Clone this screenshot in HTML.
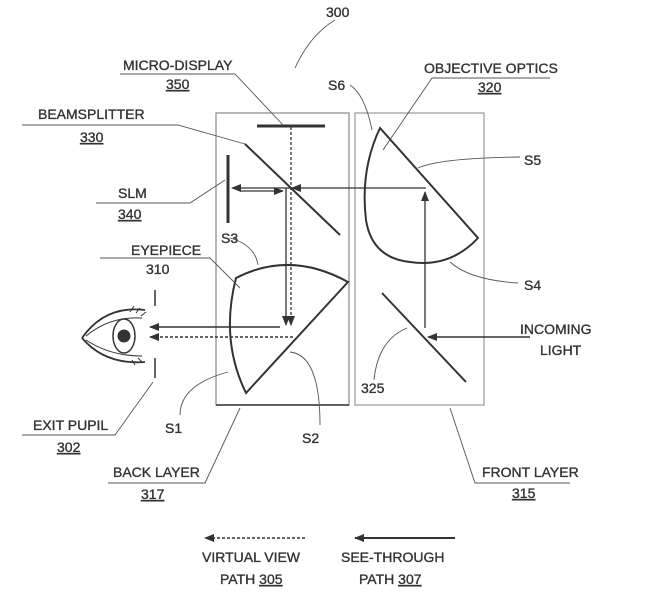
<!DOCTYPE html>
<html><head><meta charset="utf-8"><style>
html,body{margin:0;padding:0;background:#fff;}
svg{display:block;}
text{font-family:"Liberation Sans",sans-serif;font-size:14px;fill:#333;stroke:#333;stroke-width:0.35;}
</style></head><body>
<svg width="660" height="613" viewBox="0 0 660 613" xmlns="http://www.w3.org/2000/svg">
<defs>
<marker id="ah" markerWidth="10" markerHeight="8" refX="9" refY="4" orient="auto" markerUnits="userSpaceOnUse"><path d="M0,0 L10,4 L0,8 Z" fill="#333"/></marker>
</defs>
<g fill="none" stroke="#333">
<rect x="216" y="113" width="133" height="292" stroke="#888" stroke-width="1.2"/>
<line x1="216" y1="405" x2="349" y2="405" stroke-width="1.5"/>
<rect x="355" y="113" width="129" height="292" stroke="#999" stroke-width="1.2"/>
<line x1="257" y1="126" x2="325" y2="126" stroke-width="3"/>
<line x1="245" y1="144" x2="340" y2="235" stroke-width="2"/>
<line x1="228" y1="155" x2="228" y2="223" stroke-width="3"/>
<path d="M380,128 L478,238 Q450,268 410,262 Q372,258 366,220 Q360,170 380,128 Z" stroke-width="2"/>
<path d="M348,282 L246,393 Q220,340 236,278 Q290,250 348,282 Z" stroke-width="2"/>
<line x1="382" y1="293" x2="466" y2="382" stroke-width="2"/>
<line x1="291" y1="127" x2="291" y2="325" stroke-dasharray="3,2" stroke-width="1.3" marker-end="url(#ah)"/>
<line x1="286" y1="188" x2="286" y2="325" stroke-width="1.3" marker-end="url(#ah)"/>
<line x1="426" y1="188" x2="292" y2="188" stroke-width="1.3" marker-end="url(#ah)"/>
<line x1="292" y1="188" x2="232" y2="188" stroke-width="1.3" marker-end="url(#ah)"/>
<line x1="240" y1="191" x2="283" y2="191" stroke-width="1.3" marker-end="url(#ah)"/>
<line x1="425" y1="328" x2="425" y2="192" stroke-width="1.3" marker-end="url(#ah)"/>
<line x1="530" y1="337" x2="428" y2="337" stroke-width="1.5" marker-end="url(#ah)"/>
<line x1="280" y1="327" x2="150" y2="327" stroke-width="1.5" marker-end="url(#ah)"/>
<line x1="293" y1="337" x2="150" y2="337" stroke-dasharray="3,2" stroke-width="1.5" marker-end="url(#ah)"/>
<line x1="155" y1="290" x2="155" y2="306" stroke-width="1.5"/>
<line x1="155" y1="358" x2="155" y2="378" stroke-width="1.5"/>
<path d="M82,338 Q105,305 145,310 M82,338 Q105,365 145,362" stroke-width="1.8"/>
<path d="M86,336 Q110,316 142,318 M86,340 Q110,356 142,356" stroke-width="1"/>
<path d="M130,312 l4,-6 M136,313 l4,-5 M141,316 l5,-4 M132,360 l3,5 M138,358 l4,4" stroke-width="1"/>
<ellipse cx="124" cy="336" rx="11" ry="17" stroke-width="1.5"/>
<circle cx="124" cy="336" r="6" fill="#333"/>
<g stroke-width="0.9" stroke="#555">
<path d="M295,68 Q310,35 335,20"/>
<path d="M120,74 L235,74 L283,125"/>
<path d="M550,78 L432,78 L383,150"/>
<path d="M350,85 Q365,95 372,130"/>
<path d="M22,125 L178,125 L245,144"/>
<path d="M520,157 Q440,158 418,168"/>
<path d="M96,203 L190,203 L225,180"/>
<path d="M230,238 Q255,245 258,265"/>
<path d="M100,258 L210,258 L240,288"/>
<path d="M518,283 Q470,280 450,262"/>
<path d="M374,380 Q378,340 407,328"/>
<path d="M180,415 Q180,385 228,372"/>
<path d="M320,425 Q320,355 290,352"/>
<path d="M22,435 L115,435 L153,382"/>
<path d="M108,483 L205,483 L240,408"/>
<path d="M570,483 L475,483 L450,408"/>
</g>
<line x1="305" y1="538" x2="205" y2="538" stroke-dasharray="3,2" stroke-width="1.5" marker-end="url(#ah)"/>
<line x1="455" y1="538" x2="355" y2="538" stroke-width="2" marker-end="url(#ah)"/>
</g>
<g>
<text x="326" y="17">300</text>
<text x="123" y="70">MICRO-DISPLAY</text>
<text x="166" y="89" text-decoration="underline">350</text>
<text x="424" y="73">OBJECTIVE OPTICS</text>
<text x="478" y="92" text-decoration="underline">320</text>
<text x="328" y="90">S6</text>
<text x="38" y="119">BEAMSPLITTER</text>
<text x="80" y="142" text-decoration="underline">330</text>
<text x="524" y="165">S5</text>
<text x="118" y="198">SLM</text>
<text x="118" y="219" text-decoration="underline">340</text>
<text x="221" y="243">S3</text>
<text x="131" y="255">EYEPIECE</text>
<text x="146" y="274">310</text>
<text x="524" y="290">S4</text>
<text x="520" y="334">INCOMING</text>
<text x="540" y="355">LIGHT</text>
<text x="361" y="393">325</text>
<text x="165" y="433">S1</text>
<text x="302" y="443">S2</text>
<text x="33" y="430">EXIT PUPIL</text>
<text x="57" y="452" text-decoration="underline">302</text>
<text x="113" y="477">BACK LAYER</text>
<text x="141" y="499" text-decoration="underline">317</text>
<text x="482" y="477">FRONT LAYER</text>
<text x="512" y="498" text-decoration="underline">315</text>
<text x="202" y="562">VIRTUAL VIEW</text>
<text x="220" y="584">PATH <tspan text-decoration="underline">305</tspan></text>
<text x="341" y="562">SEE-THROUGH</text>
<text x="359" y="584">PATH <tspan text-decoration="underline">307</tspan></text>
</g>
</svg>
</body></html>
